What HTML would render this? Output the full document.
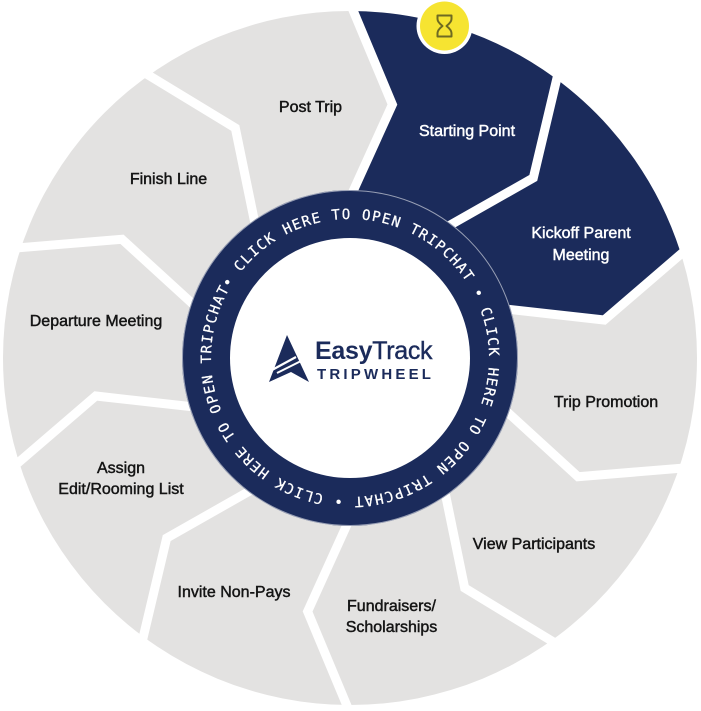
<!DOCTYPE html>
<html>
<head>
<meta charset="utf-8">
<style>
  html, body { margin: 0; padding: 0; background: #ffffff; }
  svg { display: block; }
  .lbl { font-family: "Liberation Sans", "DejaVu Sans", sans-serif; font-size: 16px; fill: #141414; stroke: #141414; stroke-width: 0.45px; text-anchor: middle; }
  .wl { fill: #ffffff; stroke: #ffffff; }
</style>
</head>
<body>
<svg width="701" height="711" viewBox="0 0 701 711" xmlns="http://www.w3.org/2000/svg">
  <!-- gray wheel -->
  <circle cx="350" cy="358" r="347" fill="#E3E2E1"/>

  <!-- navy segments -->
  <path d="M350,208 L392.4,104.5 L350,11 A347,347 0 0 1 554.0,77.3 L533.3,177.9 L438.2,236.6 Z" fill="#1B2B5B"/>
  <path d="M438.2,236.6 L533.3,177.9 L554.0,77.3 A347,347 0 0 1 680.0,250.8 L604.2,320.0 L492.7,311.6 Z" fill="#1B2B5B"/>

  <!-- white dividers -->
  <g fill="none" stroke="#ffffff" stroke-width="9" stroke-linejoin="miter">
    <polyline points="350,198 392.4,104.5 350,3"/>
    <polyline points="444.0,228.6 533.3,177.9 558.7,70.8"/>
    <polyline points="502.2,308.6 604.2,320.0 687.6,248.3"/>
    <polyline points="502.2,407.4 578.0,476.7 687.6,467.7"/>
    <polyline points="444.0,487.4 464.7,588.0 558.7,645.2"/>
    <polyline points="350,518 307.6,611.5 350,713"/>
    <polyline points="256.0,487.4 166.7,538.1 141.3,645.2"/>
    <polyline points="197.8,407.4 95.8,396.0 12.4,467.7"/>
    <polyline points="197.8,308.6 122.0,239.3 12.4,248.3"/>
    <polyline points="256.0,228.6 235.3,128.0 141.3,70.8"/>
  </g>

  <!-- center ring -->
  <circle cx="350" cy="358" r="168" fill="#1B2B5B"/>
  <circle cx="350" cy="358" r="167.5" fill="none" stroke="#ffffff" stroke-opacity="0.55" stroke-width="1"/>
  <circle cx="350" cy="358" r="120" fill="#ffffff"/>

  <!-- ring text -->
  <defs>
    <path id="ringPath" d="M229.6,288.5 A139,139 0 1 1 470.4,427.5 A139,139 0 1 1 229.6,288.5"/>
  </defs>
  <text font-family="'DejaVu Sans Mono', 'Liberation Mono', monospace" font-size="14.2" fill="#ffffff" stroke="#ffffff" stroke-width="0.25">
    <textPath href="#ringPath" textLength="872" lengthAdjust="spacing">• CLICK HERE TO OPEN TRIPCHAT • CLICK HERE TO OPEN TRIPCHAT • CLICK HERE TO OPEN TRIPCHAT </textPath>
  </text>

  <!-- logo icon -->
  <g>
    <path d="M287,335 L309,382 L291,372 L269,382 Z" fill="#1B2B5B"/>
    <path d="M272,370 L296,357" stroke="#ffffff" stroke-width="2.2" fill="none"/>
    <path d="M277,373 L301,361" stroke="#ffffff" stroke-width="2" fill="none"/>
  </g>
  <text x="315" y="359" font-family="'Liberation Sans', sans-serif" font-size="25" fill="#1B2B5B" letter-spacing="-0.3"><tspan font-weight="bold">Easy</tspan><tspan stroke="#1B2B5B" stroke-width="0.4">Track</tspan></text>
  <text x="317" y="379" font-family="'Liberation Sans', sans-serif" font-size="15" font-weight="bold" fill="#1B2B5B" letter-spacing="3.2">TRIPWHEEL</text>

  <!-- yellow hourglass badge -->
  <circle cx="444.5" cy="26" r="28" fill="#ffffff"/>
  <circle cx="444.5" cy="26" r="24.5" fill="#F6E431"/>
  <path d="M437.5,15.5 L451.5,15.5 L451.5,19 Q451.5,22 446.5,26 Q451.5,30 451.5,33 L451.5,36.5 L437.5,36.5 L437.5,33 Q437.5,30 442.5,26 Q437.5,22 437.5,19 Z" fill="none" stroke="#6E6A22" stroke-width="2" stroke-linejoin="round"/>

  <!-- labels -->
  <text class="lbl" x="310.5" y="112">Post Trip</text>
  <text class="lbl" x="168.5" y="184">Finish Line</text>
  <text class="lbl" x="96" y="326">Departure Meeting</text>
  <text class="lbl" x="121" y="473">Assign</text>
  <text class="lbl" x="121" y="494">Edit/Rooming List</text>
  <text class="lbl" x="234" y="597">Invite Non-Pays</text>
  <text class="lbl" x="391.5" y="611">Fundraisers/</text>
  <text class="lbl" x="391.5" y="632">Scholarships</text>
  <text class="lbl" x="534" y="549">View Participants</text>
  <text class="lbl" x="606" y="407">Trip Promotion</text>
  <text class="lbl wl" x="467" y="136">Starting Point</text>
  <text class="lbl wl" x="581" y="238">Kickoff Parent</text>
  <text class="lbl wl" x="581" y="260">Meeting</text>
</svg>
</body>
</html>
